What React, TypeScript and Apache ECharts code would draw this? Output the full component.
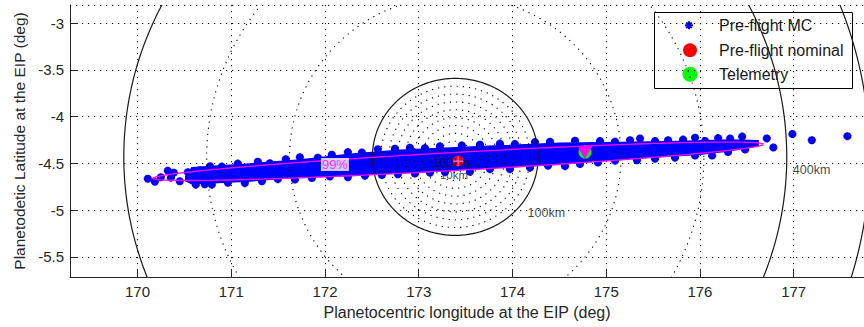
import React, { useEffect, useRef } from "react";
import * as echarts from "echarts";

// ---- Pre-flight Monte Carlo: dense core outline (lon, lat) ----
const bandLon = [170.515, 170.58, 171.199, 171.732, 172.266, 172.799, 173.333, 173.867, 174.507, 175.147, 175.788, 176.321, 176.62,
  176.62, 176.321, 176.001, 175.468, 174.934, 174.507, 173.867, 173.333, 172.799, 172.266, 171.732, 171.199, 170.58, 170.515];
const bandLat = [-4.636, -4.545, -4.505, -4.462, -4.403, -4.36, -4.334, -4.312, -4.285, -4.276, -4.265, -4.25, -4.256,
  -4.31, -4.365, -4.402, -4.434, -4.472, -4.51, -4.542, -4.574, -4.601, -4.628, -4.644, -4.687, -4.716, -4.685];

// ---- Pre-flight Monte Carlo: individual (edge / outlier) samples ----
const mcLon = [
  170.110, 170.185, 170.249, 170.323, 170.356, 170.388, 170.451, 170.537, 170.622, 170.665, 170.718,
  170.774, 170.900, 171.070, 171.284, 171.412, 171.582, 171.732, 171.924, 172.073, 172.244, 172.394, 172.564,
  172.746, 172.906, 173.066, 173.226, 173.460, 173.653, 173.866, 174.026, 174.240, 174.400, 174.667, 174.934,
  175.094, 175.254, 175.361, 175.521, 175.660, 175.820, 175.948, 176.055, 176.194, 176.322, 176.450,
  170.793, 170.964, 171.145, 171.327, 171.497, 171.679, 171.860, 172.052, 172.244, 172.426, 172.607, 172.778,
  172.959, 173.120, 173.280, 173.546, 173.760, 173.973, 174.187, 174.379, 174.560, 174.720, 174.912, 175.094,
  175.328, 175.521, 175.734, 175.948, 176.130, 176.300, 176.482,
  176.713, 176.783, 176.986, 177.193, 177.573,
];
const mcLat = [
  -4.663, -4.695, -4.647, -4.577, -4.652, -4.599, -4.690, -4.593, -4.727, -4.572, -4.722,
  -4.529, -4.534, -4.502, -4.481, -4.497, -4.454, -4.433, -4.438, -4.406, -4.379, -4.384, -4.347,
  -4.342, -4.331, -4.336, -4.315, -4.309, -4.299, -4.288, -4.293, -4.272, -4.267, -4.256, -4.261,
  -4.267, -4.251, -4.234, -4.261, -4.251, -4.245, -4.224, -4.261, -4.229, -4.234, -4.213,
  -4.727, -4.706, -4.711, -4.690, -4.668, -4.673, -4.657, -4.641, -4.647, -4.631, -4.625, -4.615,
  -4.609, -4.599, -4.593, -4.588, -4.561, -4.561, -4.545, -4.524, -4.529, -4.507, -4.491, -4.470,
  -4.465, -4.449, -4.438, -4.416, -4.416, -4.379, -4.352,
  -4.232, -4.329, -4.186, -4.251, -4.208,
];

// ---- single points ----
const nominalPoint = [173.421, -4.475];
const telemetryPoint = [174.774, -4.378];
const trianglePoint = [174.772, -4.382];

// ---- 99% ellipse (centre, semi-axis vectors in deg) ----
const ellipseCenter = [173.421, -4.477];
const ellipseMajor = [3.255, 0.182];
const ellipseMinor = [0.0053, -0.096];

// ---- range rings ----
const ringCenter = [173.39, -4.43];
const ringKm = [10, 20, 30, 40, 50, 60, 70, 80, 90, 100, 200, 300, 400, 500];
const ringSolid = [0, 0, 0, 0, 0, 0, 0, 0, 0, 1, 0, 0, 1, 1];
const degPerKmLon = 0.00884;

// ---- text labels ----
const ringLabelText = ["100km", "100km", "400km"];
const ringLabelLon = [173.349, 174.361, 177.191];
const ringLabelLat = [-4.491, -5.027, -4.572];
const hiddenLabel = { text: "10km", lon: 173.376, lat: -4.622 };
const confLabel = { text: "99%", lon: 172.106, lat: -4.511 };

const legendNames = ["Pre-flight MC", "Pre-flight nominal", "Telemetry"];

const FONT = "'Liberation Sans', Arial, Helvetica, sans-serif";
const AX = "#262626";

export default function App() {
  const ref = useRef<HTMLDivElement>(null);
  useEffect(() => {
    document.body.style.margin = "0";
    const chart = echarts.init(ref.current!, null, { renderer: "svg" });

    const ringData = ringKm.map((km, i) => [ringCenter[0], ringCenter[1], km, ringSolid[i]]);

    const option: any = {
      animation: false,
      backgroundColor: "#fff",
      textStyle: { fontFamily: FONT },
      grid: { left: 70, right: 0, top: 5, bottom: 50, containLabel: false },
      xAxis: {
        type: "value",
        min: 169.28,
        max: 177.75,
        splitNumber: 8,
        minInterval: 1,
        maxInterval: 1,
        name: "Planetocentric longitude at the EIP (deg)",
        nameLocation: "middle",
        nameGap: 27,
        nameTextStyle: { color: AX, fontSize: 16, fontFamily: FONT },
        axisLine: { show: true, onZero: false, lineStyle: { color: AX, width: 1 } },
        axisTick: { show: true, inside: true, length: 8, lineStyle: { color: AX } },
        axisLabel: { showMinLabel: false, showMaxLabel: false, color: AX, fontSize: 15, margin: 7, fontFamily: FONT },
        splitLine: { show: true, lineStyle: { color: "#000", width: 1, type: [1.2, 4.8] } },
      },
      yAxis: {
        type: "value",
        min: -5.715,
        max: -2.805,
        splitNumber: 6,
        minInterval: 0.5,
        maxInterval: 0.5,
        name: "Planetodetic Latitude at the EIP (deg)",
        nameLocation: "middle",
        nameGap: 42,
        nameTextStyle: { color: AX, fontSize: 15.5, fontFamily: FONT },
        axisLine: { show: true, onZero: false, lineStyle: { color: AX, width: 1 } },
        axisTick: { show: true, inside: true, length: 8, lineStyle: { color: AX } },
        axisLabel: { showMinLabel: false, showMaxLabel: false, color: AX, fontSize: 15, margin: 6, fontFamily: FONT },
        splitLine: { show: true, lineStyle: { color: "#000", width: 1, type: [1.2, 4.8] } },
      },
      series: [
        {
          type: "scatter",
          name: "hidden-label",
          z: 1,
          symbolSize: 0,
          data: [{ value: [hiddenLabel.lon, hiddenLabel.lat], name: hiddenLabel.text }],
          label: { show: true, position: "inside", formatter: "{b}", color: "#111", fontSize: 11.5, fontFamily: FONT },
          silent: true,
        },
        {
          type: "custom",
          name: "Pre-flight MC core",
          z: 2,
          clip: true,
          silent: true,
          data: [[bandLon[0], bandLat[0]]],
          encode: { x: 0, y: 1 },
          renderItem: (_p: any, api: any) => ({
            type: "polygon",
            shape: { points: bandLon.map((lon, i) => api.coord([lon, bandLat[i]])) },
            style: { fill: "#0000ff", stroke: "#0000ff", lineWidth: 1.5 },
          }),
        },
        {
          type: "scatter",
          name: "Pre-flight MC",
          z: 3,
          symbol: "path://M4 0L4 8M0 4L8 4M1.2 1.2L6.8 6.8M1.2 6.8L6.8 1.2",
          symbolSize: 8,
          itemStyle: { color: "#0000ff", borderColor: "#0000ff", borderWidth: 2.6, opacity: 1 },
          data: mcLon.map((lon, i) => [lon, mcLat[i]]),
          silent: true,
        },
        {
          type: "custom",
          name: "rings",
          z: 4,
          clip: true,
          silent: true,
          data: ringData,
          encode: { x: 0, y: 1 },
          renderItem: (_p: any, api: any) => {
            const cx = api.value(0);
            const cy = api.value(1);
            const km = api.value(2);
            const solid = api.value(3) === 1;
            const rx = km * degPerKmLon;
            const ry = km <= 100 ? km * 0.0084 : km * degPerKmLon - 0.045;
            const pts: number[][] = [];
            const n = 360;
            for (let k = 0; k <= n; k++) {
              const t = (k / n) * Math.PI * 2;
              pts.push(api.coord([cx + rx * Math.cos(t), cy + ry * Math.sin(t)]));
            }
            return {
              type: "polyline",
              shape: { points: pts },
              style: solid
                ? { stroke: "#1a1a1a", lineWidth: 1.2, fill: null }
                : { stroke: "#000", lineWidth: 1.1, lineDash: [1.2, 5], fill: null },
            };
          },
        },
        {
          type: "custom",
          name: "99% ellipse",
          z: 5,
          clip: true,
          silent: true,
          data: [ellipseCenter],
          encode: { x: 0, y: 1 },
          renderItem: (_p: any, api: any) => {
            const pts: number[][] = [];
            const n = 360;
            for (let k = 0; k <= n; k++) {
              const t = (k / n) * Math.PI * 2;
              const c = Math.cos(t);
              const s = Math.sin(t);
              pts.push(
                api.coord([
                  ellipseCenter[0] + c * ellipseMajor[0] + s * ellipseMinor[0],
                  ellipseCenter[1] + c * ellipseMajor[1] + s * ellipseMinor[1],
                ])
              );
            }
            return { type: "polyline", shape: { points: pts }, style: { stroke: "#ff00ff", lineWidth: 1.3, fill: null } };
          },
        },
        {
          type: "scatter",
          name: "Telemetry",
          z: 5,
          symbol: "circle",
          symbolSize: 13,
          itemStyle: { color: "#00ff00", opacity: 1 },
          data: [telemetryPoint],
          silent: true,
        },
        {
          type: "scatter",
          name: "telemetry-projection",
          z: 10,
          symbol: "path://M0 0L14 0L7 13Z",
          symbolSize: [15, 13],
          itemStyle: { color: "#ff00ff", borderColor: "#ff00ff", borderWidth: 0, opacity: 1 },
          data: [trianglePoint],
          silent: true,
        },
        {
          type: "scatter",
          name: "Pre-flight nominal",
          z: 6,
          symbol: "circle",
          symbolSize: 11,
          itemStyle: { color: "#ff0000", opacity: 1 },
          data: [nominalPoint],
          silent: true,
        },
        {
          type: "scatter",
          name: "ring-labels",
          z: 8,
          symbolSize: 0,
          data: ringLabelText.map((t, i) => ({ value: [ringLabelLon[i], ringLabelLat[i]], name: t })),
          label: { show: true, position: "inside", formatter: "{b}", color: "#111", fontSize: 12.5, fontFamily: FONT },
          silent: true,
        },
        {
          type: "scatter",
          name: "ellipse-centre",
          z: 9,
          symbol: "path://M5 0L5 10M0 5L10 5",
          symbolSize: 10,
          itemStyle: { color: "#ff80ff", borderColor: "#ff80ff", borderWidth: 1.5 },
          data: [ellipseCenter],
          silent: true,
        },
        {
          type: "scatter",
          name: "conf-label",
          z: 8,
          symbolSize: 0,
          data: [{ value: [confLabel.lon, confLabel.lat], name: confLabel.text }],
          label: {
            show: true,
            position: "inside",
            formatter: "{b}",
            color: "#ff00ff",
            fontSize: 13,
            fontFamily: FONT,
            backgroundColor: "#ffffff",
            padding: [0, 1],
          },
          silent: true,
        },
      ],
      graphic: [
        {
          type: "group",
          z: 100,
          children: [
            {
              type: "rect",
              shape: { x: 654.5, y: 12.5, width: 198, height: 76 },
              style: { fill: "#ffffff", stroke: "#000000", lineWidth: 1 },
            },
            { type: "line", shape: { x1: 685, y1: 25.3, x2: 693, y2: 25.3 }, style: { stroke: "#0000ff", lineWidth: 2 } },
            { type: "line", shape: { x1: 689, y1: 21.3, x2: 689, y2: 29.3 }, style: { stroke: "#0000ff", lineWidth: 2 } },
            { type: "line", shape: { x1: 686.2, y1: 22.5, x2: 691.8, y2: 28.1 }, style: { stroke: "#0000ff", lineWidth: 2 } },
            { type: "line", shape: { x1: 686.2, y1: 28.1, x2: 691.8, y2: 22.5 }, style: { stroke: "#0000ff", lineWidth: 2 } },
            { type: "circle", shape: { cx: 690, cy: 50.3, r: 7 }, style: { fill: "#ff0000" } },
            { type: "circle", shape: { cx: 690, cy: 74.2, r: 7.5 }, style: { fill: "#00ff00" } },
            ...legendNames.map((t, i) => ({
              type: "text",
              x: 719,
              y: [25.3, 50.3, 74.2][i],
              style: { text: t, fill: "#1a1a1a", font: `16px ${FONT}`, textVerticalAlign: "middle", textAlign: "left" },
            })),
          ],
        },
      ],
    };

    chart.setOption(option);
    return () => chart.dispose();
  }, []);

  return <div ref={ref} style={{ width: 864, height: 327 }} />;
}
